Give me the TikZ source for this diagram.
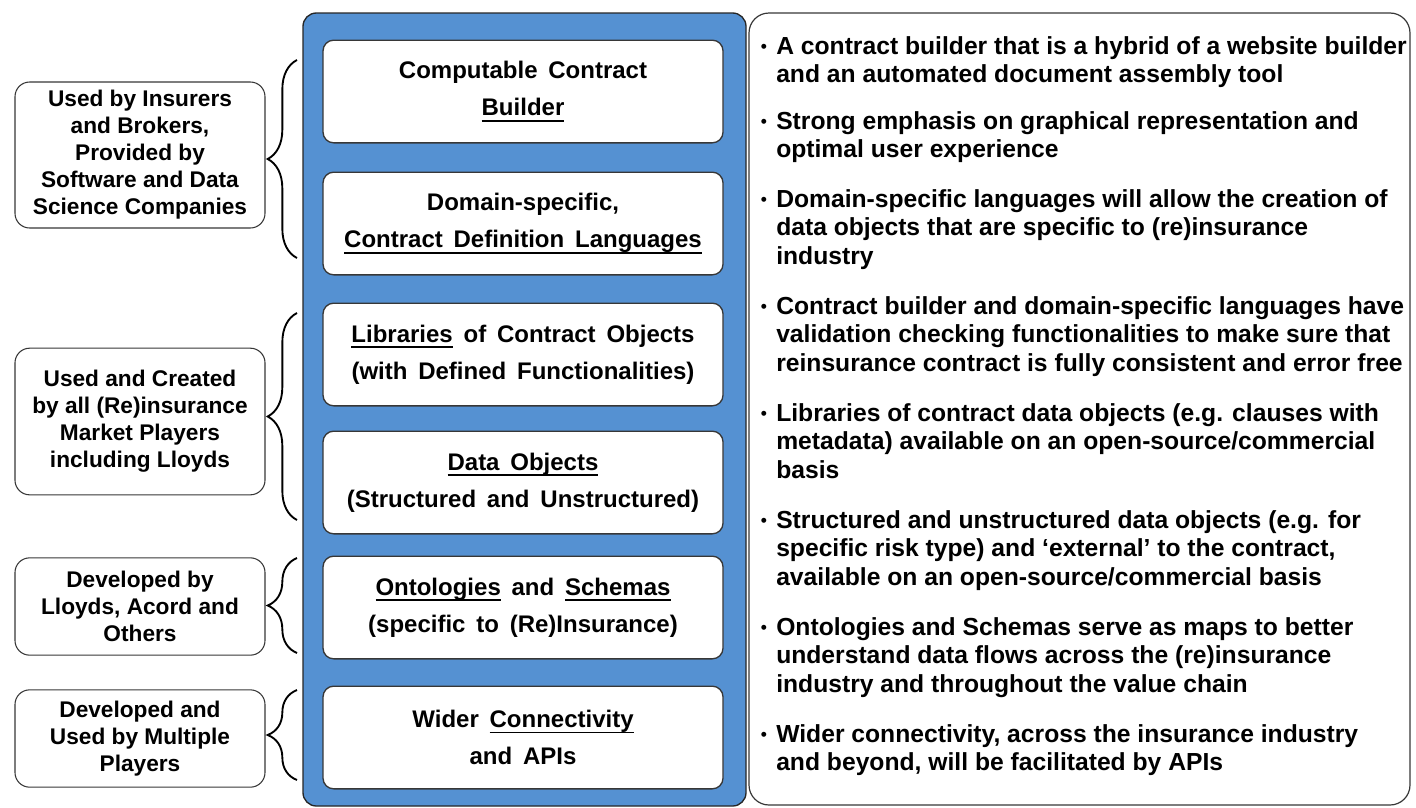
\documentclass[tikz,border=0pt]{standalone}
\usepackage{fontspec}
\setmainfont{Liberation Sans}
\usetikzlibrary{decorations.pathreplacing}

\definecolor{panelblue}{RGB}{85,145,210}
\definecolor{edgegrey}{RGB}{55,55,55}

\newcommand{\uword}[1]{\setbox0 = \hbox{#1}\rlap{\rule[-4.4pt]{\wd0}{1.3pt}}\box0\relax}
\newcommand{\pointdot}{\llap{{\fontsize{13}{13}\selectfont\raisebox{1pt}{•}}\hspace{7pt}}}
\newcommand{\widespace}{\spaceskip 0.45em plus 0.1em\relax}

\begin{document}
\begin{tikzpicture}[x = 0.75pt, y = -0.75pt,
	midbox/.style = {draw = edgegrey, line width = 1pt, fill = white, rounded corners = 8pt,
		minimum width = 300pt, minimum height = 77pt, align = center,
		font = \fontsize{18}{27.75}\selectfont\bfseries, execute at begin node = \widespace},
	sidebox/.style = {draw = edgegrey, line width = 0.8pt, fill = white, rounded corners = 11pt,
		minimum width = 187.5pt, align = center,
		font = \fontsize{17}{20.25}\selectfont\bfseries},
	point/.style = {anchor = north west, align = left, inner sep = 0pt,
		font = \fontsize{18.5}{21.4}\selectfont\bfseries},
	curly/.style = {decorate, decoration = {brace, amplitude = 22pt}, line width = 1.4pt}]

	\useasboundingbox (0, 0) rectangle (1416, 807);

	% Blue panel and the frame on the right

	\draw [fill = panelblue, draw = black!85, line width = 1pt, rounded corners = 10pt] (303, 13) rectangle (746, 806);
	\draw [draw = edgegrey, line width = 0.9pt, rounded corners = 15pt] (749, 13) rectangle (1410, 805);

	% Building blocks inside the panel

	\node [midbox] (builder) at (523, 91.5) {Computable Contract\\ \uword{Builder}};
	\node [midbox] (lang) at (523, 223.5) {Domain-specific,\\ \uword{Contract Definition Languages}};
	\node [midbox] (libs) at (523, 354.5) {\uword{Libraries} of Contract Objects\\ (with Defined Functionalities)};
	\node [midbox] (data) at (523, 482.5) {\uword{Data Objects}\\ (Structured and Unstructured)};
	\node [midbox] (onto) at (523, 607.5) {\uword{Ontologies} and \uword{Schemas}\\ (specific to (Re)Insurance)};
	\node [midbox] (apis) at (523, 737.5) {Wider \uword{Connectivity}\\ and APIs};

	% Who uses and provides them

	\node [sidebox, minimum height = 109.5pt] (insurers) at (140, 155) {Used by Insurers\\ and Brokers,\\ Provided by\\ Software and Data\\ Science Companies};
	\node [sidebox, minimum height = 110pt] (market) at (140, 421.5) {Used and Created\\ by all (Re)insurance\\ Market Players\\ including Lloyds};
	\node [sidebox, minimum height = 73pt] (acord) at (140, 606.5) {Developed by\\ Lloyds, Acord and\\ Others};
	\node [sidebox, minimum height = 73pt] (players) at (140, 738.5) {Developed and\\ Used by Multiple\\ Players};

	% Braces between the two columns

	\coordinate (top1) at (297, 60);
	\coordinate (bot1) at (297, 258);
	\coordinate (top2) at (297, 313);
	\coordinate (bot2) at (297, 520);
	\coordinate (top3) at (297, 558);
	\coordinate (bot3) at (297, 653);
	\coordinate (top4) at (297, 690);
	\coordinate (bot4) at (297, 780);

	\draw [curly] (bot1) -- (top1);
	\draw [curly] (bot2) -- (top2);
	\draw [curly] (bot3) -- (top3);
	\draw [curly] (bot4) -- (top4);

	% Notes on the right

	\node [point] (p1) at (776, 36) {\pointdot A contract builder that is a hybrid of a website builder\\ and an automated document assembly tool};
	\node [point] (p2) at (776, 111) {\pointdot Strong emphasis on graphical representation and\\ optimal user experience};
	\node [point] (p3) at (776, 189) {\pointdot Domain-specific languages will allow the creation of\\ data objects that are specific to (re)insurance\\ industry};
	\node [point] (p4) at (776, 296) {\pointdot Contract builder and domain-specific languages have\\ validation checking functionalities to make sure that\\ reinsurance contract is fully consistent and error free};
	\node [point] (p5) at (776, 403) {\pointdot Libraries of contract data objects (e.g. clauses with\\ metadata) available on an open-source/commercial\\ basis};
	\node [point] (p6) at (776, 510) {\pointdot Structured and unstructured data objects (e.g. for\\ specific risk type) and ‘external’ to the contract,\\ available on an open-source/commercial basis};
	\node [point] (p7) at (776, 617) {\pointdot Ontologies and Schemas serve as maps to better\\ understand data flows across the (re)insurance\\ industry and throughout the value chain};
	\node [point] (p8) at (776, 724) {\pointdot Wider connectivity, across the insurance industry\\ and beyond, will be facilitated by APIs};

\end{tikzpicture}
\end{document}
